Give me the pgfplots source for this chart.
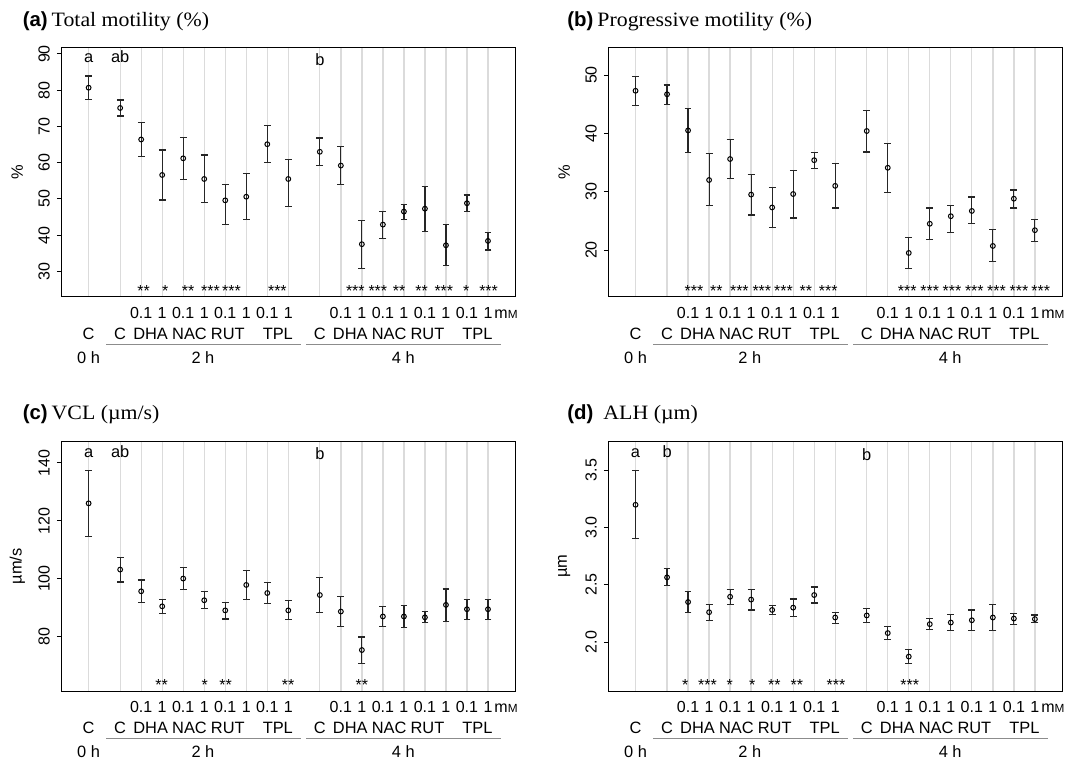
\documentclass[border=0pt]{standalone}
\usepackage{fontspec}
\setmainfont{Liberation Sans}
\newfontfamily\serif{Liberation Serif}[FakeStretch=1.07]
\usepackage{pgfplots}
\usepackage{pgfplotstable}
\pgfplotsset{compat=1.18}

\newcommand{\lbl}{\fontsize{8}{9.6}\selectfont}
\newcommand{\glbl}{\fontsize{8.2}{9.6}\selectfont}
\newcommand{\ttl}{\fontsize{10.2}{12}\selectfont}

% x positions: 0 h control at 0, 2 h group 1.5..9.5, 4 h group 11..19
\pgfplotstableread{
x y lo hi
0 80.7 77.5 83.9
1.5 75.1 72.9 77.3
2.5 66.4 61.8 71.1
3.5 56.6 49.7 63.5
4.5 61.2 55.4 67.0
5.5 55.5 49.0 62.1
6.5 49.6 43.0 54.0
7.5 50.6 44.3 57.1
8.5 65.1 60.0 70.2
9.5 55.5 47.8 60.8
11 63.0 59.3 66.8
12 59.2 54.0 64.5
13 37.5 30.8 44.1
14 42.9 39.1 46.6
15 46.5 44.4 48.5
16 47.3 41.0 53.5
17 37.2 31.6 43.0
18 48.8 46.5 51.1
19 38.4 35.9 40.7
}\tabA

\pgfplotstableread{
x y lo hi
0 47.3 44.8 49.8
1.5 46.7 45.0 48.3
2.5 40.5 36.7 44.3
3.5 32.0 27.6 36.5
4.5 35.6 32.2 38.9
5.5 29.5 26.0 33.0
6.5 27.3 23.9 30.7
7.5 29.6 25.5 33.7
8.5 35.4 34.0 36.7
9.5 31.0 27.2 34.8
11 40.4 36.8 43.9
12 34.1 29.9 38.3
13 19.5 16.8 22.2
14 24.5 21.8 27.2
15 25.8 23.0 27.6
16 26.7 24.5 29.1
17 20.7 18.1 23.5
18 28.8 27.2 30.3
19 23.4 21.4 25.2
}\tabB

\pgfplotstableread{
x y lo hi
0 126.0 114.6 137.4
1.5 103.1 98.8 107.4
2.5 95.6 91.7 99.5
3.5 90.4 87.9 92.9
4.5 100.0 96.2 103.7
5.5 92.5 89.6 95.5
6.5 89.0 86.0 91.8
7.5 97.8 92.7 102.9
8.5 95.0 91.5 98.6
9.5 89.0 85.8 92.3
11 94.3 88.4 100.3
12 88.6 83.4 93.8
13 75.3 70.7 79.8
14 86.9 83.4 90.3
15 86.9 83.0 90.7
16 86.6 84.9 88.6
17 90.9 85.3 96.4
18 89.4 85.8 92.8
19 89.4 85.8 92.9
}\tabC

\pgfplotstableread{
x y lo hi
0 3.197 2.900 3.494
1.5 2.564 2.490 2.643
2.5 2.349 2.255 2.440
3.5 2.260 2.190 2.330
4.5 2.395 2.325 2.460
5.5 2.370 2.280 2.460
6.5 2.280 2.240 2.320
7.5 2.300 2.220 2.375
8.5 2.410 2.340 2.480
9.5 2.214 2.165 2.260
11 2.232 2.170 2.290
12 2.078 2.020 2.135
13 1.873 1.810 1.938
14 2.156 2.107 2.206
15 2.170 2.104 2.238
16 2.190 2.098 2.280
17 2.214 2.098 2.328
18 2.205 2.153 2.250
19 2.200 2.167 2.235
}\tabD

\pgfplotsset{
  panel/.style={
    scale only axis, width=227pt, height=124.7pt, anchor=north west,
    xmin=-1.3, xmax=20.3,
    xtick={0,1.5,2.5,3.5,4.5,5.5,6.5,7.5,8.5,9.5,11,12,13,14,15,16,17,18,19},
    xticklabel=\empty, xtick style={draw=none},
    xmajorgrids, major x grid style={color=black!14, line width=0.65pt},
    ytick pos=left, tick align=outside, major tick length=2.2pt,
    ytick style={black, line width=0.5pt},
    axis line style={line width=0.6pt},
    /pgf/number format/assume math mode=true,
    yticklabel style={rotate=90, anchor=south, font=\lbl},
    clip=false,
  },
  mean/.style={only marks, mark=o, mark size=1.2pt, black, line width=0.5pt,
    error bars/.cd, y dir=both, y explicit,
    error bar style={line width=0.6pt, black!85},
    error mark options={rotate=90, line width=0.6pt, mark size=1.7pt, black!85}},
}

% label under the axis at data x, baseline dropped by #2
\newcommand{\bl}[3]{\node[anchor=base, font=\lbl, inner sep=0pt, yshift=-#2] at ({axis cs:#1,0}|-{rel axis cs:0,0}) {#3};}
\newcommand{\gbl}[3]{\node[anchor=base, font=\glbl, inner sep=0pt, yshift=-#2] at ({axis cs:#1,0}|-{rel axis cs:0,0}) {#3};}
% asterisks just above the bottom of the axis
\newcommand{\st}[2]{\node[anchor=base, font=\lbl, inner sep=0pt, yshift=0.2pt] at ({axis cs:#1,0}|-{rel axis cs:0,0}) {#2};}
% group letters near the top
\newcommand{\gl}[3]{\node[anchor=base, font=\glbl, inner sep=0pt, yshift=-#2] at ({axis cs:#1,0}|-{rel axis cs:0,1}) {#3};}
\newcommand{\ylab}[1]{\node[rotate=90, font=\glbl] at ([xshift=-22pt]rel axis cs:0,0.5) {#1};}

\newcommand{\bottomlabels}{%
  \bl{2.5}{10.8pt}{0.1}\bl{3.5}{10.8pt}{1}\bl{4.5}{10.8pt}{0.1}\bl{5.5}{10.8pt}{1}%
  \bl{6.5}{10.8pt}{0.1}\bl{7.5}{10.8pt}{1}\bl{8.5}{10.8pt}{0.1}\bl{9.5}{10.8pt}{1}%
  \bl{12}{10.8pt}{0.1}\bl{13}{10.8pt}{1}\bl{14}{10.8pt}{0.1}\bl{15}{10.8pt}{1}%
  \bl{16}{10.8pt}{0.1}\bl{17}{10.8pt}{1}\bl{18}{10.8pt}{0.1}%
  \bl{19}{10.8pt}{1\rlap{\hspace{1pt}m{\fontsize{5.9}{6}\selectfont M}}}%
  \gbl{0}{21.3pt}{C}\gbl{1.5}{21.3pt}{C}\gbl{2.95}{21.3pt}{DHA}\gbl{4.8}{21.3pt}{NAC}%
  \gbl{6.62}{21.3pt}{RUT}\gbl{9.0}{21.3pt}{TPL}%
  \gbl{11}{21.3pt}{C}\gbl{12.45}{21.3pt}{DHA}\gbl{14.3}{21.3pt}{NAC}%
  \gbl{16.12}{21.3pt}{RUT}\gbl{18.5}{21.3pt}{TPL}%
  \gbl{0}{33.3pt}{0 h}\gbl{5.44}{33.3pt}{2 h}\gbl{14.97}{33.3pt}{4 h}%
  \draw[black!45, line width=0.5pt] ([yshift=-23.65pt]rel axis cs:0.0995,0) -- ([yshift=-23.65pt]rel axis cs:0.5278,0);
  \draw[black!45, line width=0.5pt] ([yshift=-23.65pt]rel axis cs:0.5394,0) -- ([yshift=-23.65pt]rel axis cs:0.9676,0);
}

\begin{document}
\begin{tikzpicture}
\path (0,0) rectangle (534pt,381pt);

% (a) total motility
\node[anchor=base west, inner sep=0pt] at (11.2pt,367.65pt) {\ttl\bfseries(a)\hspace{2pt}\mdseries\serif Total motility (\%)};
\begin{axis}[panel, at={(30.65pt,357.35pt)}, ymin=23, ymax=91.85, ytick={30,40,...,90}]
\addplot[mean] table[x=x, y=y, y error plus expr=\thisrow{hi}-\thisrow{y}, y error minus expr=\thisrow{y}-\thisrow{lo}] {\tabA};
\gl{0}{7.75pt}{a}\gl{1.5}{7.75pt}{ab}\gl{11}{8.9pt}{b}
\st{2.62}{**}\st{3.65}{*}\st{4.73}{**}\st{5.8}{***}\st{6.8}{***}\st{8.98}{***}
\st{12.69}{***}\st{13.76}{***}\st{14.77}{**}\st{15.84}{**}\st{16.9}{***}\st{17.97}{*}\st{19.03}{***}
\ylab{\%}
\bottomlabels
\end{axis}

% (b) progressive motility
\node[anchor=base west, inner sep=0pt] at (283.5pt,367.65pt) {\ttl\bfseries(b)\hspace{2pt}\mdseries\serif Progressive motility (\%)};
\begin{axis}[panel, at={(304.1pt,357.35pt)}, ymin=12, ymax=54.75, ytick={20,30,40,50}]
\addplot[mean] table[x=x, y=y, y error plus expr=\thisrow{hi}-\thisrow{y}, y error minus expr=\thisrow{y}-\thisrow{lo}] {\tabB};
\st{2.78}{***}\st{3.85}{**}\st{4.94}{***}\st{6.01}{***}\st{7.04}{***}\st{8.1}{**}\st{9.17}{***}
\st{12.93}{***}\st{14.0}{***}\st{15.06}{***}\st{16.12}{***}\st{17.17}{***}\st{18.24}{***}\st{19.28}{***}
\ylab{\%}
\bottomlabels
\end{axis}

% (c) VCL
\node[anchor=base west, inner sep=0pt] at (11.2pt,171.35pt) {\ttl\bfseries(c)\hspace{2pt}\mdseries\serif VCL (µm/s)};
\begin{axis}[panel, at={(30.65pt,160.15pt)}, ymin=61.1, ymax=147.3, ytick={80,100,120,140}]
\addplot[mean] table[x=x, y=y, y error plus expr=\thisrow{hi}-\thisrow{y}, y error minus expr=\thisrow{y}-\thisrow{lo}] {\tabC};
\gl{0}{7.75pt}{a}\gl{1.5}{7.75pt}{ab}\gl{11}{8.9pt}{b}
\st{3.47}{**}\st{5.52}{*}\st{6.52}{**}\st{9.49}{**}\st{13.0}{**}
\ylab{µm/s}
\bottomlabels
\end{axis}

% (d) ALH
\node[anchor=base west, inner sep=0pt] at (283.5pt,171.35pt) {\ttl\bfseries(d)\hspace{5pt}\mdseries\serif ALH (µm)};
\begin{axis}[panel, at={(304.1pt,160.15pt)}, ymin=1.572, ymax=3.747, ytick={2,2.5,3,3.5},
  yticklabel style={/pgf/number format/.cd, fixed, fixed zerofill, precision=1}]
\addplot[mean] table[x=x, y=y, y error plus expr=\thisrow{hi}-\thisrow{y}, y error minus expr=\thisrow{y}-\thisrow{lo}] {\tabD};
\gl{0}{7.75pt}{a}\gl{1.5}{7.75pt}{b}\gl{11}{9.5pt}{b}
\st{2.36}{*}\st{3.42}{***}\st{4.48}{*}\st{5.55}{*}\st{6.61}{**}\st{7.68}{**}\st{9.54}{***}
\st{13.05}{***}
\ylab{µm}
\bottomlabels
\end{axis}
\end{tikzpicture}
\end{document}
